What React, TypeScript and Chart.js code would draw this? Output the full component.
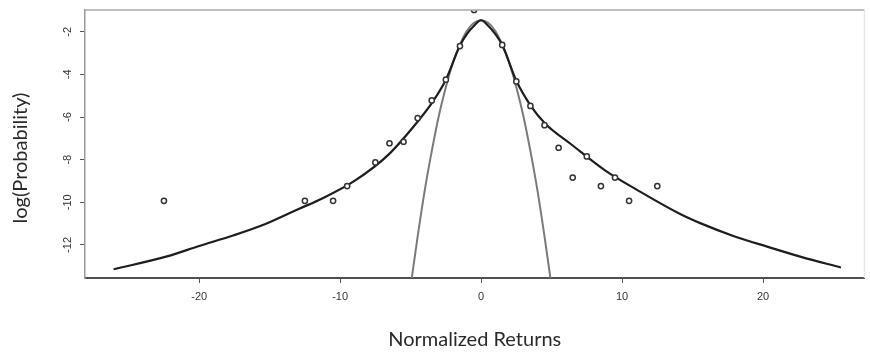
import React, { useEffect, useRef } from 'react';
import { Chart, registerables } from 'chart.js';

Chart.register(...registerables);

// Observed (binned) log-probabilities
const obsX = [-22.5, -12.5, -10.5, -9.5, -7.5, -6.5, -5.5, -4.5, -3.5, -2.5, -1.5, -0.5, 1.5, 2.5, 3.5, 4.5, 5.5, 6.5, 7.5, 8.5, 9.5, 10.5, 12.5];
const obsY = [-9.93, -9.93, -9.93, -9.24, -8.13, -7.23, -7.16, -6.05, -5.22, -4.25, -2.67, -0.98, -2.62, -4.33, -5.48, -6.38, -7.44, -8.84, -7.85, -9.24, -8.84, -9.93, -9.24];

// Fat-tailed fitted curve
const fatX = [-26.07, -22.35, -20.0, -17.6, -15.3, -12.9, -11.27, -8.9, -6.55, -4.42, -3.5, -2.5, -1.5, -1.0, -0.5, 0, 0.5, 1.0, 1.5, 2.5, 3.5, 4.54, 6.43, 8.79, 11.15, 13.98, 15.63, 17.99, 20.35, 22.7, 25.53];
const fatY = [-13.14, -12.55, -12.05, -11.56, -11.02, -10.3, -9.82, -8.96, -7.75, -6.15, -5.35, -4.25, -2.65, -2.1, -1.72, -1.46, -1.72, -2.1, -2.62, -4.3, -5.45, -6.3, -7.3, -8.5, -9.45, -10.5, -11.0, -11.6, -12.09, -12.56, -13.06];

// Normal fitted curve
const normX = [-5.0, -4.5, -4.0, -3.5, -3.0, -2.5, -2.0, -1.5, -1.0, -0.5, 0, 0.5, 1.0, 1.5, 2.0, 2.5, 3.0, 3.5, 4.0, 4.5, 5.0];
const normY = [-13.95, -11.6, -9.45, -7.6, -5.95, -4.6, -3.45, -2.6, -1.95, -1.58, -1.46, -1.58, -1.95, -2.6, -3.45, -4.6, -5.95, -7.6, -9.45, -11.6, -13.95];

const xTicks = [-20, -10, 0, 10, 20];
const xTickLabels = ['-20', '-10', '0', '10', '20'];
const yTicks = [-2, -4, -6, -8, -10, -12];
const yTickLabels = ['-2', '-4', '-6', '-8', '-10', '-12'];

const xTitle = 'Normalized Returns';
const yTitle = 'log(Probability)';

const pairs = (xs: number[], ys: number[]) => xs.map((x, i) => ({ x, y: ys[i] }));

const framePlugin = {
  id: 'frame',
  afterDraw(chart: any) {
    const { ctx, chartArea: a, scales } = chart;
    ctx.save();
    // top line
    ctx.strokeStyle = '#a8a8a8';
    ctx.lineWidth = 1.5;
    ctx.beginPath();
    ctx.moveTo(a.left, a.top);
    ctx.lineTo(a.right, a.top);
    ctx.stroke();
    // right line (faint)
    ctx.strokeStyle = '#e6e6e6';
    ctx.beginPath();
    ctx.moveTo(a.right, a.top);
    ctx.lineTo(a.right, a.bottom);
    ctx.stroke();
    // rotated y tick labels
    ctx.fillStyle = '#333';
    ctx.font = '11px "Liberation Sans", Arial, sans-serif';
    ctx.textAlign = 'center';
    ctx.textBaseline = 'middle';
    yTicks.forEach((v, i) => {
      const py = scales.y.getPixelForValue(v);
      ctx.save();
      ctx.translate(68, py);
      ctx.rotate(-Math.PI / 2);
      ctx.fillText(yTickLabels[i], 0, 0);
      ctx.restore();
    });
    // y title
    ctx.fillStyle = '#2a2a2a';
    ctx.font = '20px Lato, "Open Sans", sans-serif';
    ctx.save();
    ctx.translate(21, 158);
    ctx.rotate(-Math.PI / 2);
    ctx.fillText(yTitle, 0, 0);
    ctx.restore();
    ctx.restore();
  },
};

export default function App() {
  const ref = useRef<HTMLCanvasElement | null>(null);
  useEffect(() => {
    if (!ref.current) return;
    const chart = new Chart(ref.current, {
      type: 'scatter',
      data: {
        datasets: [
          {
            label: 'observed',
            data: pairs(obsX, obsY),
            showLine: false,
            pointStyle: 'circle',
            pointRadius: 2.6,
            pointBorderWidth: 1.5,
            pointBorderColor: '#333',
            pointBackgroundColor: '#fff',
            clip: 0,
          } as any,
          {
            label: 'fat tail',
            data: pairs(fatX, fatY),
            showLine: true,
            borderColor: '#1e1e1e',
            borderWidth: 2.2,
            pointRadius: 0,
            cubicInterpolationMode: 'monotone',
            clip: 0,
          } as any,
          {
            label: 'normal',
            data: pairs(normX, normY),
            showLine: true,
            borderColor: '#7a7a7a',
            borderWidth: 2,
            pointRadius: 0,
            cubicInterpolationMode: 'monotone',
            clip: 0,
          } as any,
        ],
      },
      options: {
        animation: false,
        responsive: true,
        maintainAspectRatio: false,
        layout: { padding: { top: 10, right: 3, left: 0, bottom: 0 } },
        plugins: { legend: { display: false }, tooltip: { enabled: false } },
        scales: {
          x: {
            type: 'linear',
            min: -28.1,
            max: 27.2,
            afterBuildTicks: (s: any) => {
              s.ticks = xTicks.map((v) => ({ value: v }));
            },
            afterFit: (s: any) => {
              s.height = 76;
            },
            border: { display: true, color: '#505050', width: 2 },
            grid: { display: true, drawOnChartArea: false, drawTicks: true, tickLength: 5, color: '#555', lineWidth: 1 },
            ticks: {
              color: '#333',
              font: { family: '"Liberation Sans", Arial, sans-serif', size: 11 },
              padding: 7,
              maxRotation: 0,
              minRotation: 0,
              callback: (v: any) => {
                const i = xTicks.indexOf(Number(v));
                return i >= 0 ? xTickLabels[i] : '';
              },
            },
            title: {
              display: true,
              text: xTitle,
              color: '#2a2a2a',
              font: { family: 'Lato, "Open Sans", sans-serif', size: 20 },
              padding: { top: 0, bottom: 2 },
            },
          },
          y: {
            type: 'linear',
            min: -13.55,
            max: -0.98,
            afterBuildTicks: (s: any) => {
              s.ticks = yTicks.map((v) => ({ value: v }));
            },
            afterFit: (s: any) => {
              s.width = 85;
            },
            border: { display: true, color: '#9a9a9a', width: 1.5 },
            grid: { display: true, drawOnChartArea: false, drawTicks: true, tickLength: 5, color: '#555', lineWidth: 1 },
            ticks: { display: false },
          },
        },
      },
      plugins: [framePlugin],
    } as any);
    return () => chart.destroy();
  }, []);
  return (
    <div style={{ position: 'fixed', left: 0, top: 0, width: 870, height: 354, background: '#fff' }}>
      <canvas ref={ref} />
    </div>
  );
}
